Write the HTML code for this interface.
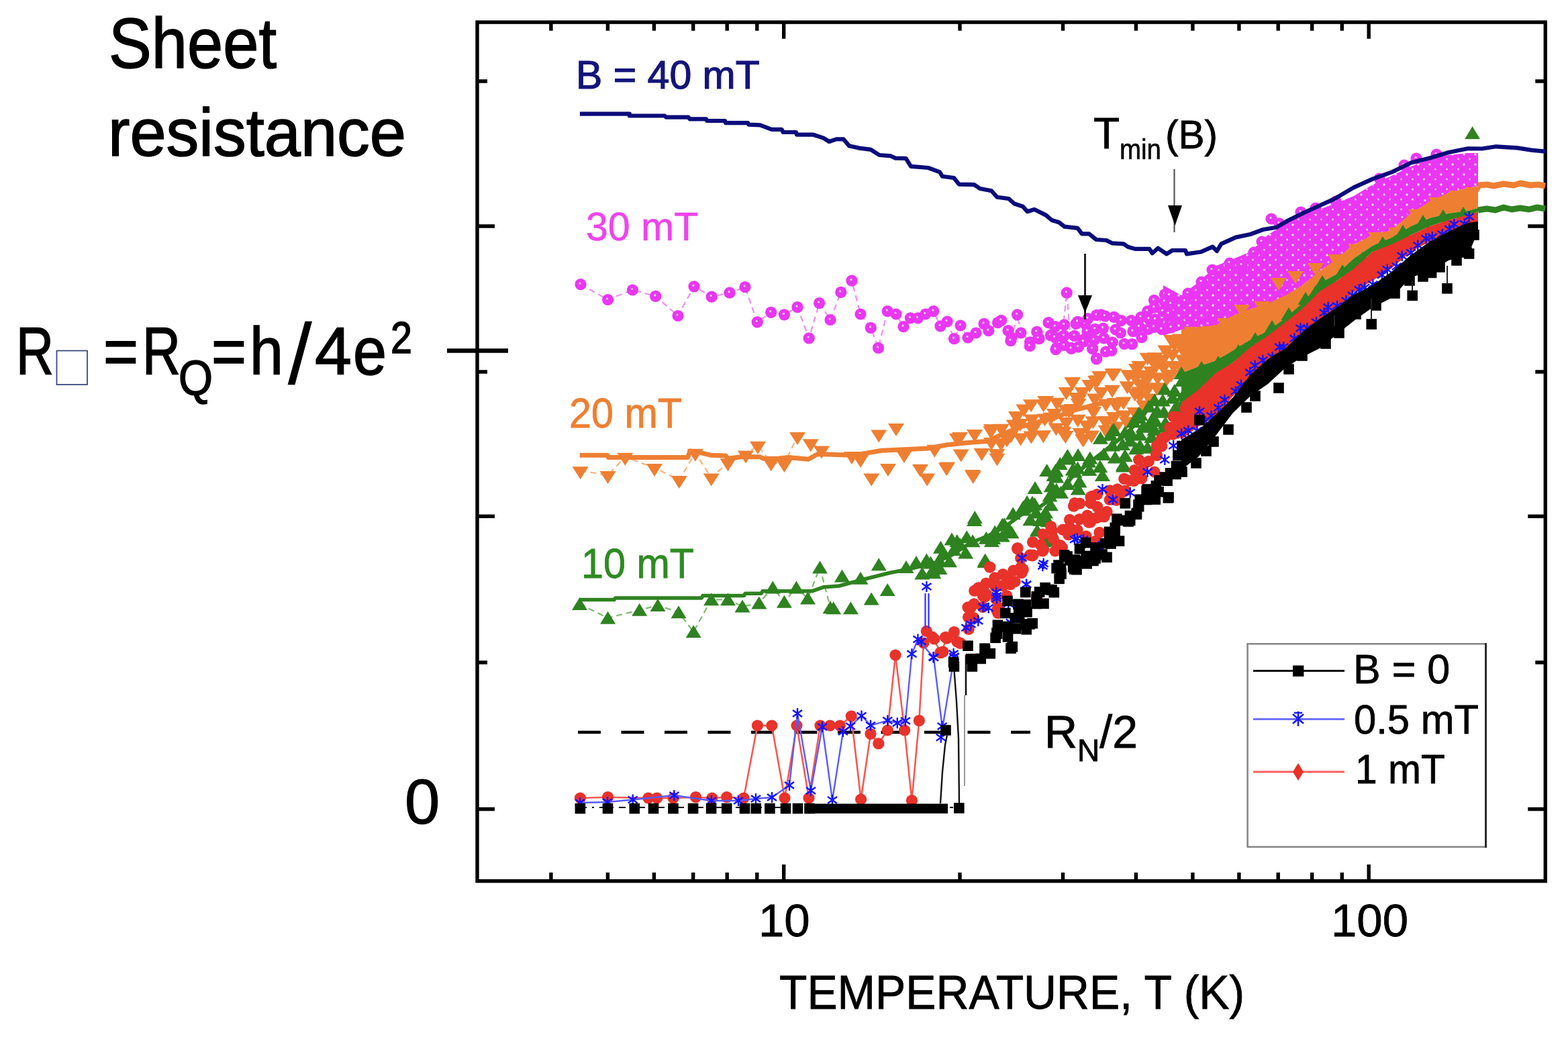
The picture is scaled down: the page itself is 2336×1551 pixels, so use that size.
<!DOCTYPE html>
<html><head><meta charset="utf-8"><style>
html,body{margin:0;padding:0;background:#fff;}
svg{display:block;}
text{font-family:"Liberation Sans",Arial,sans-serif;}
</style></head><body>
<svg width="2336" height="1551" viewBox="0 0 2336 1551">
<rect width="2336" height="1551" fill="#fff"/>
<rect x="711" y="33.1" width="1591.3000000000002" height="1279.6000000000001" fill="none" stroke="#000" stroke-width="5.4"/>
<path d="M820.9 1312.7v-12.7M820.9 33.1v12.7M905.4 1312.7v-12.7M905.4 33.1v12.7M974.4 1312.7v-12.7M974.4 33.1v12.7M1032.7 1312.7v-12.7M1032.7 33.1v12.7M1083.2 1312.7v-12.7M1083.2 33.1v12.7M1127.8 1312.7v-12.7M1127.8 33.1v12.7M1430.0 1312.7v-12.7M1430.0 33.1v12.7M1583.5 1312.7v-12.7M1583.5 33.1v12.7M1692.4 1312.7v-12.7M1692.4 33.1v12.7M1776.9 1312.7v-12.7M1776.9 33.1v12.7M1845.9 1312.7v-12.7M1845.9 33.1v12.7M1904.2 1312.7v-12.7M1904.2 33.1v12.7M1954.7 1312.7v-12.7M1954.7 33.1v12.7M1999.3 1312.7v-12.7M1999.3 33.1v12.7M1167.7 1312.7v-24.7M1167.7 33.1v24.7M2039.2 1312.7v-24.7M2039.2 33.1v24.7M711 121h15M2302.3 121h-15M711 337h26M2302.3 337h-26M711 554h15M2302.3 554h-15M711 769.3h26M2302.3 769.3h-26M711 987h15M2302.3 987h-15M711 1205.5h26M2302.3 1205.5h-26" stroke="#000" stroke-width="5.4" fill="none"/>
<path d="M666 522.5H757" stroke="#000" stroke-width="6.5"/>
<text x="1130" y="1395" font-size="69" fill="#000" stroke="#000" stroke-width="0.8">10</text>
<text x="1983" y="1395" font-size="69" fill="#000" stroke="#000" stroke-width="0.8">100</text>
<text x="1161" y="1503" font-size="70" fill="#000" textLength="693" lengthAdjust="spacingAndGlyphs" stroke="#000" stroke-width="0.8">TEMPERATURE, T (K)</text>
<text x="858" y="132.2" font-size="59" fill="#14147a" stroke="#14147a" stroke-width="1.2">B = 40 mT</text>
<text x="873" y="357.5" font-size="59" fill="#ee44ee" stroke="#ee44ee" stroke-width="0.6">30 mT</text>
<text x="848" y="637" font-size="63" fill="#ee7f32" textLength="168" lengthAdjust="spacingAndGlyphs" stroke="#f08030" stroke-width="0.8">20 mT</text>
<text x="866" y="861.4" font-size="63" fill="#2e8b22" textLength="168" lengthAdjust="spacingAndGlyphs" stroke="#2e8b22" stroke-width="0.8">10 mT</text>
<text x="1629" y="220.6" font-size="64" fill="#000" stroke="#000" stroke-width="0.8">T</text>
<text x="1668" y="236.7" font-size="42" fill="#000" textLength="62" lengthAdjust="spacingAndGlyphs" stroke="#000" stroke-width="0.6">min</text>
<text x="1736" y="220.6" font-size="60" fill="#000" textLength="78" lengthAdjust="spacingAndGlyphs" stroke="#000" stroke-width="0.8">(B)</text>
<text x="1556" y="1114" font-size="68" fill="#000" stroke="#000" stroke-width="0.8">R<tspan font-size="46" dy="20">N</tspan><tspan dy="-20">/2</tspan></text>
<text x="162" y="101.4" font-size="106" fill="#000" textLength="250" lengthAdjust="spacingAndGlyphs" stroke="#000" stroke-width="1.6">Sheet</text>
<text x="161" y="232.2" font-size="100" fill="#000" textLength="444" lengthAdjust="spacingAndGlyphs" stroke="#000" stroke-width="1.6">resistance</text>
<text x="24" y="558" font-size="100" fill="#000" textLength="56" lengthAdjust="spacingAndGlyphs" stroke="#000" stroke-width="1.6" >R</text>
<rect x="84.5" y="522.5" width="45.5" height="50.5" fill="none" stroke="#3a4a7a" stroke-width="1.8"/>
<text x="154" y="558" font-size="100" fill="#000" textLength="52" lengthAdjust="spacingAndGlyphs" stroke="#000" stroke-width="1.6" >=</text>
<text x="212" y="558" font-size="100" fill="#000" textLength="57" lengthAdjust="spacingAndGlyphs" stroke="#000" stroke-width="1.6" >R</text>
<text x="266" y="588" font-size="72" fill="#000" textLength="51" lengthAdjust="spacingAndGlyphs" stroke="#000" stroke-width="1.6" >Q</text>
<text x="315" y="558" font-size="100" fill="#000" textLength="52" lengthAdjust="spacingAndGlyphs" stroke="#000" stroke-width="1.6" >=</text>
<text x="372" y="558" font-size="100" fill="#000" textLength="50" lengthAdjust="spacingAndGlyphs" stroke="#000" stroke-width="1.6" >h</text>
<text x="429" y="572" font-size="128" fill="#000" stroke="#000" stroke-width="0.6">/</text>
<text x="469" y="558" font-size="100" fill="#000" textLength="55" lengthAdjust="spacingAndGlyphs" stroke="#000" stroke-width="1.6" >4</text>
<text x="526" y="558" font-size="100" fill="#000" textLength="50" lengthAdjust="spacingAndGlyphs" stroke="#000" stroke-width="1.6" >e</text>
<text x="582" y="526" font-size="66" fill="#000" textLength="32" lengthAdjust="spacingAndGlyphs" stroke="#000" stroke-width="1.6" >2</text>
<text x="603" y="1227" font-size="94" fill="#000" stroke="#000" stroke-width="1.2">0</text>
<rect x="1858.6" y="959.3" width="355" height="302.5" fill="#fff" stroke="#888" stroke-width="2.6"/>
<path d="M2213.6 958V1263" stroke="#222" stroke-width="2.8"/>
<path d="M1867 999.6H2003" stroke="#111" stroke-width="3"/>
<rect x="1926" y="991.5" width="16.4" height="16.4" fill="#000"/>
<path d="M1867 1071.5H2003" stroke="#7070ff" stroke-width="3"/>
<path d="M1867 1150H2003" stroke="#ff6060" stroke-width="3"/>
<path d="M1934 1137l8 13l-8 13l-8-13z" fill="#e83028"/>
<path d="M1926 1064l16 14M1942 1064l-16 14M1934 1060v22M1928 1062h12" stroke="#1a1aff" stroke-width="2.6"/>
<text x="2016" y="1017.8" font-size="61" fill="#000" stroke="#000" stroke-width="0.8">B = 0</text>
<text x="2017" y="1093.4" font-size="61" fill="#000" textLength="186" lengthAdjust="spacingAndGlyphs" stroke="#000" stroke-width="0.8">0.5 mT</text>
<text x="2019" y="1166.9" font-size="61" fill="#000" textLength="134" lengthAdjust="spacingAndGlyphs" stroke="#000" stroke-width="0.8">1 mT</text>
<path d="M861 1091H1535" stroke="#000" stroke-width="4.5" stroke-dasharray="34 30.5"/>
<defs>
<g id="mc"><circle r="8.6" fill="#e936f3"/><circle r="1.6" cx="-1" cy="-1.5" fill="#fbd8fb"/></g>
<path id="od" d="M-12 -6H12L0 13Z" fill="#ee7f32"/>
<path id="gu" d="M0 -10L11.5 9H-11.5Z" fill="#2f8220"/>
<rect id="bs" x="-7.8" y="-7.8" width="15.6" height="15.6" fill="#000"/>
<circle id="rd" r="8.6" fill="#e8322a"/>
<path id="bst" d="M-7 -5L7 5M7 -5L-7 5M0 -8V8" stroke="#1414ff" stroke-width="2.4" fill="none"/>
<pattern id="mp" width="17" height="15" patternUnits="userSpaceOnUse"><rect width="17" height="15" fill="#e936f3"/><circle cx="5" cy="5" r="1.8" fill="#fcdcfc"/><circle cx="13.5" cy="12" r="1.5" fill="#f8c8f8"/></pattern>
</defs>
<polyline points="865.0,423.7 905.6,446.5 942.4,432.0 976.7,441.4 1010.0,470.5 1034.0,426.8 1060.2,442.2 1087.0,436.2 1110.0,427.7 1128.2,479.9 1148.7,465.3 1168.4,468.8 1188.0,457.6 1205.2,503.8 1220.6,451.6 1237.0,476.5 1252.8,435.4 1269.0,418.2 1282.0,468.0 1297.3,488.4 1308.5,518.4 1322.2,463.6 1335.0,468.0 1346.0,486.7" fill="none" stroke="#f08cf4" stroke-width="2.2" stroke-linejoin="round" stroke-dasharray="9 6"/>
<polyline points="1346.0,486.7 1356.4,473.9 1367.5,473.9 1378.7,468.0 1390.7,463.6 1401.0,485.9 1411.2,479.0 1421.5,504.7 1431.0,485.0 1442.0,503.0 1454.0,496.0 1466.0,482.4 1472.8,492.7 1486.5,480.7 1491.7,477.3 1502.0,492.7 1507.0,503.0 1515.6,468.8 1520.8,496.0 1534.5,509.8 1544.7,494.4 1548.2,504.7 1562.0,480.7 1565.3,499.6 1574.0,518.4 1582.4,501.3 1589.2,436.2 1596.0,518.4 1603.0,482.4 1616.6,482.4 1625.0,501.3 1633.8,533.8 1640.0,468.8" fill="none" stroke="#f08cf4" stroke-width="2.2" stroke-linejoin="round" stroke-dasharray="9 6"/>
<polygon points="1733.0,425.0 1760.0,440.0 1786.0,420.0 1812.0,396.0 1837.0,386.0 1863.0,375.0 1889.0,350.0 1915.0,333.0 1940.0,318.0 1966.0,312.0 1992.0,302.0 2017.0,292.0 2045.0,275.0 2073.0,262.0 2102.0,248.0 2130.0,237.0 2158.0,231.0 2187.0,228.0 2202.0,228.0 2202.0,277.0 2187.0,280.0 2158.0,287.0 2130.0,300.0 2102.0,318.0 2073.0,343.0 2045.0,350.0 2017.0,364.0 1992.0,385.0 1966.0,404.0 1940.0,425.0 1915.0,444.0 1889.0,455.0 1863.0,465.0 1837.0,475.0 1812.0,486.0 1786.0,488.0 1760.0,491.0 1733.0,500.0" fill="url(#mp)" />
<g><use href="#mc" x="865.0" y="423.7"/><use href="#mc" x="905.6" y="446.5"/><use href="#mc" x="942.4" y="432.0"/><use href="#mc" x="976.7" y="441.4"/><use href="#mc" x="1010.0" y="470.5"/><use href="#mc" x="1034.0" y="426.8"/><use href="#mc" x="1060.2" y="442.2"/><use href="#mc" x="1087.0" y="436.2"/><use href="#mc" x="1110.0" y="427.7"/><use href="#mc" x="1128.2" y="479.9"/><use href="#mc" x="1148.7" y="465.3"/><use href="#mc" x="1168.4" y="468.8"/><use href="#mc" x="1188.0" y="457.6"/><use href="#mc" x="1205.2" y="503.8"/><use href="#mc" x="1220.6" y="451.6"/><use href="#mc" x="1237.0" y="476.5"/><use href="#mc" x="1252.8" y="435.4"/><use href="#mc" x="1269.0" y="418.2"/><use href="#mc" x="1282.0" y="468.0"/><use href="#mc" x="1297.3" y="488.4"/><use href="#mc" x="1308.5" y="518.4"/><use href="#mc" x="1322.2" y="463.6"/><use href="#mc" x="1335.0" y="468.0"/><use href="#mc" x="1346.0" y="486.7"/><use href="#mc" x="1356.4" y="473.9"/><use href="#mc" x="1367.5" y="473.9"/><use href="#mc" x="1378.7" y="468.0"/><use href="#mc" x="1390.7" y="463.6"/><use href="#mc" x="1401.0" y="485.9"/><use href="#mc" x="1411.2" y="479.0"/><use href="#mc" x="1421.5" y="504.7"/><use href="#mc" x="1431.0" y="485.0"/><use href="#mc" x="1442.0" y="503.0"/><use href="#mc" x="1454.0" y="496.0"/><use href="#mc" x="1466.0" y="482.4"/><use href="#mc" x="1472.8" y="492.7"/><use href="#mc" x="1486.5" y="480.7"/><use href="#mc" x="1491.7" y="477.3"/><use href="#mc" x="1502.0" y="492.7"/><use href="#mc" x="1507.0" y="503.0"/><use href="#mc" x="1515.6" y="468.8"/><use href="#mc" x="1520.8" y="496.0"/><use href="#mc" x="1534.5" y="509.8"/><use href="#mc" x="1544.7" y="494.4"/><use href="#mc" x="1548.2" y="504.7"/><use href="#mc" x="1562.0" y="480.7"/><use href="#mc" x="1565.3" y="499.6"/><use href="#mc" x="1574.0" y="518.4"/><use href="#mc" x="1582.4" y="501.3"/><use href="#mc" x="1589.2" y="436.2"/><use href="#mc" x="1596.0" y="518.4"/><use href="#mc" x="1603.0" y="482.4"/><use href="#mc" x="1616.6" y="482.4"/><use href="#mc" x="1625.0" y="501.3"/><use href="#mc" x="1633.8" y="533.8"/><use href="#mc" x="1640.0" y="468.8"/><use href="#mc" x="1505.8" y="507.7"/><use href="#mc" x="1534.2" y="515.5"/><use href="#mc" x="1572.9" y="520.6"/><use href="#mc" x="1596.0" y="519.4"/><use href="#mc" x="1633.5" y="534.8"/><use href="#mc" x="1615.5" y="505.0"/><use href="#mc" x="1547.0" y="504.0"/><use href="#mc" x="1572.2" y="486.5"/><use href="#mc" x="1571.6" y="502.6"/><use href="#mc" x="1585.5" y="483.8"/><use href="#mc" x="1585.3" y="500.2"/><use href="#mc" x="1585.6" y="514.5"/><use href="#mc" x="1605.6" y="479.3"/><use href="#mc" x="1600.8" y="500.3"/><use href="#mc" x="1606.6" y="516.9"/><use href="#mc" x="1620.8" y="474.6"/><use href="#mc" x="1619.9" y="493.6"/><use href="#mc" x="1614.2" y="509.2"/><use href="#mc" x="1633.5" y="469.6"/><use href="#mc" x="1631.7" y="490.3"/><use href="#mc" x="1630.0" y="506.6"/><use href="#mc" x="1627.5" y="519.6"/><use href="#mc" x="1646.4" y="470.9"/><use href="#mc" x="1643.5" y="489.1"/><use href="#mc" x="1644.6" y="503.8"/><use href="#mc" x="1647.4" y="524.0"/><use href="#mc" x="1659.6" y="472.3"/><use href="#mc" x="1662.0" y="491.0"/><use href="#mc" x="1657.3" y="510.0"/><use href="#mc" x="1655.9" y="522.5"/><use href="#mc" x="1670.2" y="477.6"/><use href="#mc" x="1669.3" y="496.0"/><use href="#mc" x="1675.1" y="512.3"/><use href="#mc" x="1685.5" y="477.5"/><use href="#mc" x="1687.8" y="493.6"/><use href="#mc" x="1686.6" y="512.6"/><use href="#mc" x="1699.8" y="472.7"/><use href="#mc" x="1697.4" y="486.9"/><use href="#mc" x="1700.9" y="502.6"/><use href="#mc" x="1709.7" y="463.6"/><use href="#mc" x="1712.0" y="475.4"/><use href="#mc" x="1710.8" y="490.3"/><use href="#mc" x="1719.4" y="447.3"/><use href="#mc" x="1719.8" y="458.2"/><use href="#mc" x="1721.3" y="475.9"/><use href="#mc" x="1719.5" y="487.4"/><use href="#mc" x="1735.3" y="438.5"/><use href="#mc" x="1735.2" y="449.3"/><use href="#mc" x="1732.5" y="463.8"/><use href="#mc" x="1735.3" y="481.4"/><use href="#mc" x="1730.9" y="490.7"/><use href="#mc" x="1742.4" y="440.0"/><use href="#mc" x="1744.5" y="452.6"/><use href="#mc" x="1741.0" y="467.6"/><use href="#mc" x="1743.2" y="482.5"/><use href="#mc" x="1894.0" y="326.0"/><use href="#mc" x="1906.0" y="333.0"/><use href="#mc" x="1938.0" y="316.0"/><use href="#mc" x="1960.0" y="310.0"/><use href="#mc" x="1990.0" y="300.0"/><use href="#mc" x="2055.0" y="266.0"/><use href="#mc" x="2092.0" y="246.0"/><use href="#mc" x="2110.0" y="236.0"/><use href="#mc" x="2140.0" y="230.0"/><use href="#mc" x="1770.0" y="437.0"/><use href="#mc" x="1790.0" y="420.0"/><use href="#mc" x="1806.0" y="402.0"/><use href="#mc" x="1832.0" y="392.0"/><use href="#mc" x="1850.0" y="395.0"/><use href="#mc" x="1868.0" y="376.0"/><use href="#mc" x="1880.0" y="360.0"/><use href="#mc" x="1745.0" y="488.0"/><use href="#mc" x="1770.0" y="486.0"/><use href="#mc" x="1800.0" y="483.0"/><use href="#mc" x="1826.0" y="474.0"/><use href="#mc" x="1852.0" y="465.0"/><use href="#mc" x="1880.0" y="455.0"/><use href="#mc" x="1905.0" y="446.0"/><use href="#mc" x="1930.0" y="432.0"/><use href="#mc" x="1955.0" y="412.0"/><use href="#mc" x="1980.0" y="392.0"/><use href="#mc" x="2000.0" y="378.0"/><use href="#mc" x="2030.0" y="360.0"/><use href="#mc" x="2060.0" y="348.0"/><use href="#mc" x="2090.0" y="325.0"/><use href="#mc" x="2118.0" y="305.0"/><use href="#mc" x="2150.0" y="290.0"/><use href="#mc" x="2130.0" y="305.0"/><use href="#mc" x="2178.0" y="303.0"/><use href="#mc" x="2190.0" y="298.0"/><use href="#mc" x="2124.0" y="300.0"/></g>
<polyline points="864.6,701.3 905.6,708.0 931.3,680.8 975.0,697.0 1011.8,715.0 1035.8,674.8 1059.7,711.6 1084.5,689.3 1111.0,677.4 1129.0,663.7 1148.7,689.3 1168.4,691.0 1188.0,650.0 1207.8,660.2 1224.0,670.5" fill="none" stroke="#f6b37a" stroke-width="2.2" stroke-linejoin="round" stroke-dasharray="9 6"/>
<polygon points="1760.0,491.0 1786.0,488.0 1812.0,484.0 1837.0,470.0 1863.0,460.0 1889.0,452.0 1915.0,440.0 1940.0,425.0 1966.0,404.0 1992.0,385.0 2017.0,364.0 2045.0,350.0 2073.0,343.0 2102.0,318.0 2130.0,300.0 2158.0,287.0 2187.0,280.0 2202.0,277.0 2202.0,310.0 2187.0,314.0 2158.0,318.0 2130.0,325.0 2102.0,337.0 2073.0,354.0 2045.0,366.0 2017.0,385.0 1992.0,408.0 1966.0,422.0 1940.0,452.0 1915.0,474.0 1889.0,493.0 1863.0,506.0 1837.0,522.0 1812.0,537.0 1786.0,546.0 1760.0,556.0" fill="#ee7f32" />
<polyline points="863.7,678.2 904.8,678.2 906.5,681.6 1024.6,681.6 1028.0,672.0 1045.0,674.8 1058.9,678.2 1081.0,679.0 1084.5,683.3 1103.4,680.8 1132.5,680.8 1137.6,683.3 1158.0,683.3 1175.0,681.6 1204.4,684.2 1218.0,676.5 1262.0,678.0 1282.8,676.4 1313.6,671.3 1383.8,667.9 1411.0,662.7 1445.4,659.3 1469.4,657.6 1496.8,645.6 1522.5,635.3 1548.0,628.5 1573.8,621.6 1599.5,611.4 1640.0,601.0 1660.6,598.0" fill="none" stroke="#ee7f32" stroke-width="7" stroke-linejoin="round" />
<g><use href="#od" x="864.6" y="701.3"/><use href="#od" x="905.6" y="708.0"/><use href="#od" x="931.3" y="680.8"/><use href="#od" x="975.0" y="697.0"/><use href="#od" x="1011.8" y="715.0"/><use href="#od" x="1035.8" y="674.8"/><use href="#od" x="1059.7" y="711.6"/><use href="#od" x="1084.5" y="689.3"/><use href="#od" x="1111.0" y="677.4"/><use href="#od" x="1129.0" y="663.7"/><use href="#od" x="1148.7" y="689.3"/><use href="#od" x="1168.4" y="691.0"/><use href="#od" x="1188.0" y="650.0"/><use href="#od" x="1207.8" y="660.2"/><use href="#od" x="1224.0" y="670.5"/><use href="#od" x="1269.0" y="679.0"/><use href="#od" x="1282.0" y="684.0"/><use href="#od" x="1298.2" y="711.5"/><use href="#od" x="1309.3" y="646.5"/><use href="#od" x="1323.0" y="697.0"/><use href="#od" x="1335.0" y="637.0"/><use href="#od" x="1347.0" y="677.0"/><use href="#od" x="1371.0" y="697.8"/><use href="#od" x="1381.2" y="711.5"/><use href="#od" x="1392.4" y="668.7"/><use href="#od" x="1411.2" y="694.4"/><use href="#od" x="1430.0" y="650.0"/><use href="#od" x="1431.7" y="675.6"/><use href="#od" x="1449.7" y="708.0"/><use href="#od" x="1462.6" y="673.9"/><use href="#od" x="1476.3" y="641.3"/><use href="#od" x="1484.8" y="675.6"/><use href="#od" x="1500.2" y="653.3"/><use href="#od" x="1514.0" y="619.0"/><use href="#od" x="1537.9" y="638.0"/><use href="#od" x="1558.4" y="596.0"/><use href="#od" x="1565.3" y="620.8"/><use href="#od" x="1584.0" y="643.0"/><use href="#od" x="1592.7" y="610.5"/><use href="#od" x="1597.8" y="568.6"/><use href="#od" x="1613.2" y="653.3"/><use href="#od" x="1620.0" y="633.6"/><use href="#od" x="1632.0" y="566.0"/><use href="#od" x="1608.0" y="591.7"/><use href="#od" x="1514.8" y="619.5"/><use href="#od" x="1485.0" y="675.0"/><use href="#od" x="1557.4" y="596.3"/><use href="#od" x="1597.4" y="568.0"/><use href="#od" x="1659.3" y="555.0"/><use href="#od" x="1634.8" y="565.3"/><use href="#od" x="1691.6" y="561.5"/><use href="#od" x="1709.6" y="531.8"/><use href="#od" x="1588.4" y="609.2"/><use href="#od" x="1603.8" y="591.0"/><use href="#od" x="1619.3" y="632.4"/><use href="#od" x="1614.2" y="653.0"/><use href="#od" x="1647.7" y="628.5"/><use href="#od" x="1678.7" y="627.3"/><use href="#od" x="1698.0" y="588.6"/><use href="#od" x="1539.3" y="637.6"/><use href="#od" x="1583.2" y="641.5"/><use href="#od" x="1660.6" y="598.9"/><use href="#od" x="1410.0" y="696.0"/><use href="#od" x="1449.0" y="706.0"/><use href="#od" x="1426.0" y="652.0"/><use href="#od" x="1452.0" y="646.0"/><use href="#od" x="1477.0" y="658.0"/><use href="#od" x="1477.0" y="638.0"/><use href="#od" x="1491.9" y="637.7"/><use href="#od" x="1491.2" y="659.3"/><use href="#od" x="1485.5" y="681.5"/><use href="#od" x="1510.7" y="631.6"/><use href="#od" x="1505.9" y="647.6"/><use href="#od" x="1525.3" y="608.6"/><use href="#od" x="1519.7" y="630.0"/><use href="#od" x="1520.6" y="651.4"/><use href="#od" x="1536.0" y="601.3"/><use href="#od" x="1537.0" y="623.5"/><use href="#od" x="1536.3" y="648.6"/><use href="#od" x="1554.5" y="601.2"/><use href="#od" x="1556.5" y="622.4"/><use href="#od" x="1554.2" y="647.2"/><use href="#od" x="1574.7" y="598.8"/><use href="#od" x="1570.9" y="615.0"/><use href="#od" x="1573.4" y="636.6"/><use href="#od" x="1588.6" y="582.9"/><use href="#od" x="1596.5" y="607.9"/><use href="#od" x="1588.5" y="628.1"/><use href="#od" x="1587.3" y="647.9"/><use href="#od" x="1612.6" y="583.0"/><use href="#od" x="1606.6" y="599.7"/><use href="#od" x="1605.7" y="623.7"/><use href="#od" x="1609.3" y="643.8"/><use href="#od" x="1623.2" y="572.1"/><use href="#od" x="1630.8" y="592.5"/><use href="#od" x="1629.1" y="612.1"/><use href="#od" x="1628.4" y="626.2"/><use href="#od" x="1626.2" y="647.5"/><use href="#od" x="1638.3" y="558.9"/><use href="#od" x="1640.6" y="583.0"/><use href="#od" x="1647.6" y="600.6"/><use href="#od" x="1647.4" y="626.0"/><use href="#od" x="1647.6" y="639.7"/><use href="#od" x="1657.3" y="555.5"/><use href="#od" x="1657.0" y="579.8"/><use href="#od" x="1664.0" y="602.0"/><use href="#od" x="1659.8" y="620.1"/><use href="#od" x="1663.0" y="634.4"/><use href="#od" x="1681.1" y="557.3"/><use href="#od" x="1679.5" y="574.3"/><use href="#od" x="1673.8" y="597.4"/><use href="#od" x="1675.3" y="617.5"/><use href="#od" x="1693.0" y="548.0"/><use href="#od" x="1698.5" y="571.2"/><use href="#od" x="1690.7" y="585.2"/><use href="#od" x="1690.5" y="613.0"/><use href="#od" x="1697.2" y="543.9"/><use href="#od" x="1703.8" y="557.5"/><use href="#od" x="1698.8" y="571.6"/><use href="#od" x="1697.0" y="582.4"/><use href="#od" x="1703.8" y="602.5"/><use href="#od" x="1715.5" y="534.0"/><use href="#od" x="1715.0" y="552.1"/><use href="#od" x="1709.7" y="562.6"/><use href="#od" x="1710.3" y="577.5"/><use href="#od" x="1712.7" y="592.6"/><use href="#od" x="1721.0" y="531.3"/><use href="#od" x="1722.8" y="542.6"/><use href="#od" x="1724.7" y="561.2"/><use href="#od" x="1723.4" y="576.3"/><use href="#od" x="1736.3" y="520.5"/><use href="#od" x="1732.1" y="534.8"/><use href="#od" x="1733.5" y="546.3"/><use href="#od" x="1738.4" y="562.7"/><use href="#od" x="1749.8" y="512.1"/><use href="#od" x="1746.6" y="526.8"/><use href="#od" x="1748.4" y="543.9"/><use href="#od" x="1744.8" y="557.1"/><use href="#od" x="1758.2" y="503.4"/><use href="#od" x="1760.1" y="516.7"/><use href="#od" x="1762.1" y="534.5"/><use href="#od" x="1759.5" y="547.1"/><use href="#od" x="1772.1" y="503.7"/><use href="#od" x="1771.6" y="517.4"/><use href="#od" x="1771.8" y="535.7"/><use href="#od" x="1745.0" y="505.0"/><use href="#od" x="1775.0" y="493.0"/><use href="#od" x="1800.0" y="492.0"/><use href="#od" x="1825.0" y="480.0"/><use href="#od" x="1850.0" y="460.0"/><use href="#od" x="1880.0" y="455.0"/><use href="#od" x="1905.0" y="420.0"/><use href="#od" x="1930.0" y="410.0"/><use href="#od" x="1960.0" y="398.0"/><use href="#od" x="1990.0" y="385.0"/><use href="#od" x="2020.0" y="370.0"/><use href="#od" x="2050.0" y="352.0"/><use href="#od" x="2080.0" y="345.0"/><use href="#od" x="2110.0" y="318.0"/><use href="#od" x="2140.0" y="300.0"/><use href="#od" x="2170.0" y="290.0"/><use href="#od" x="2195.0" y="285.0"/><use href="#od" x="1760.0" y="545.0"/><use href="#od" x="1790.0" y="540.0"/><use href="#od" x="1815.0" y="530.0"/><use href="#od" x="1845.0" y="515.0"/><use href="#od" x="1870.0" y="500.0"/><use href="#od" x="1900.0" y="480.0"/><use href="#od" x="1930.0" y="460.0"/><use href="#od" x="1955.0" y="440.0"/></g>
<polyline points="2202.0,276.0 2215.0,275.0 2225.0,277.0 2240.0,274.0 2255.0,276.0 2265.0,273.0 2280.0,276.0 2292.0,275.0 2302.0,277.0" fill="none" stroke="#ee7f32" stroke-width="9" stroke-linejoin="round" />
<polyline points="863.5,900.0 905.6,920.7 952.7,908.8 980.0,902.0 1011.0,912.2 1033.2,941.3 1059.7,893.3 1084.5,893.3 1106.0,903.6 1130.8,898.5 1151.3,875.4 1168.4,896.8 1186.4,875.4 1203.5,891.6 1221.5,845.4 1237.0,905.3" fill="none" stroke="#7dbb6f" stroke-width="2.2" stroke-linejoin="round" stroke-dasharray="9 6"/>
<polygon points="1760.0,556.0 1786.0,546.0 1812.0,537.0 1837.0,522.0 1863.0,506.0 1889.0,493.0 1915.0,474.0 1940.0,452.0 1966.0,422.0 1992.0,408.0 2017.0,385.0 2045.0,366.0 2073.0,354.0 2102.0,337.0 2130.0,325.0 2158.0,318.0 2187.0,314.0 2202.0,310.0 2202.0,316.0 2187.0,320.0 2158.0,328.0 2130.0,337.0 2102.0,350.0 2073.0,366.0 2045.0,375.0 2017.0,400.0 1992.0,418.0 1966.0,436.0 1940.0,462.0 1915.0,482.0 1889.0,505.0 1863.0,519.0 1837.0,540.0 1812.0,558.0 1786.0,585.0 1760.0,609.0" fill="#2f8220" />
<polyline points="863.7,893.6 915.0,893.6 916.8,891.0 1045.2,891.0 1047.0,887.6 1108.5,887.6 1110.2,884.2 1134.2,884.2 1136.0,880.8 1209.5,880.8 1226.6,874.8 1250.0,873.0 1291.4,862.0 1325.6,853.5 1359.8,846.7 1394.0,838.0 1419.8,826.0 1445.4,809.0 1471.0,798.8 1496.8,785.0 1522.5,766.2 1548.0,756.0 1582.4,732.0 1596.0,712.0 1622.0,690.0 1647.7,670.0 1673.5,650.0 1699.3,625.0 1720.0,595.0" fill="none" stroke="#2f8220" stroke-width="5.5" stroke-linejoin="round" />
<g><use href="#gu" x="863.5" y="900.0"/><use href="#gu" x="905.6" y="920.7"/><use href="#gu" x="952.7" y="908.8"/><use href="#gu" x="980.0" y="902.0"/><use href="#gu" x="1011.0" y="912.2"/><use href="#gu" x="1033.2" y="941.3"/><use href="#gu" x="1059.7" y="893.3"/><use href="#gu" x="1084.5" y="893.3"/><use href="#gu" x="1106.0" y="903.6"/><use href="#gu" x="1130.8" y="898.5"/><use href="#gu" x="1151.3" y="875.4"/><use href="#gu" x="1168.4" y="896.8"/><use href="#gu" x="1186.4" y="875.4"/><use href="#gu" x="1203.5" y="891.6"/><use href="#gu" x="1221.5" y="845.4"/><use href="#gu" x="1237.0" y="905.3"/><use href="#gu" x="1254.5" y="858.4"/><use href="#gu" x="1282.0" y="861.8"/><use href="#gu" x="1309.3" y="841.3"/><use href="#gu" x="1322.2" y="879.0"/><use href="#gu" x="1298.2" y="892.6"/><use href="#gu" x="1267.4" y="906.3"/><use href="#gu" x="1241.7" y="906.3"/><use href="#gu" x="1380.4" y="834.4"/><use href="#gu" x="1390.7" y="853.3"/><use href="#gu" x="1418.0" y="803.6"/><use href="#gu" x="1452.3" y="771.0"/><use href="#gu" x="1440.3" y="800.2"/><use href="#gu" x="1467.7" y="834.4"/><use href="#gu" x="1479.7" y="802.0"/><use href="#gu" x="1507.0" y="793.3"/><use href="#gu" x="1493.4" y="781.4"/><use href="#gu" x="1537.9" y="748.8"/><use href="#gu" x="1524.2" y="755.7"/><use href="#gu" x="1553.3" y="772.8"/><use href="#gu" x="1565.3" y="752.2"/><use href="#gu" x="1558.4" y="805.3"/><use href="#gu" x="1590.0" y="679.6"/><use href="#gu" x="1572.0" y="701.8"/><use href="#gu" x="1659.3" y="640.3"/><use href="#gu" x="1696.7" y="615.8"/><use href="#gu" x="1673.5" y="694.5"/><use href="#gu" x="1572.9" y="701.0"/><use href="#gu" x="1350.0" y="845.0"/><use href="#gu" x="1365.0" y="838.0"/><use href="#gu" x="1405.0" y="825.0"/><use href="#gu" x="1400.0" y="847.0"/><use href="#gu" x="1451.6" y="775.0"/><use href="#gu" x="1467.0" y="837.0"/><use href="#gu" x="1425.8" y="806.0"/><use href="#gu" x="1477.4" y="806.0"/><use href="#gu" x="1503.0" y="788.0"/><use href="#gu" x="1523.8" y="759.6"/><use href="#gu" x="1539.3" y="751.8"/><use href="#gu" x="1549.6" y="775.0"/><use href="#gu" x="1554.7" y="806.0"/><use href="#gu" x="1570.0" y="708.0"/><use href="#gu" x="1590.8" y="679.6"/><use href="#gu" x="1601.0" y="702.8"/><use href="#gu" x="1621.8" y="687.4"/><use href="#gu" x="1642.4" y="708.0"/><use href="#gu" x="1658.0" y="641.0"/><use href="#gu" x="1673.4" y="692.5"/><use href="#gu" x="1683.7" y="656.4"/><use href="#gu" x="1699.2" y="617.7"/><use href="#gu" x="1709.5" y="666.7"/><use href="#gu" x="1735.3" y="635.8"/><use href="#gu" x="1766.0" y="617.7"/><use href="#gu" x="1606.3" y="728.6"/><use href="#gu" x="1580.5" y="733.8"/><use href="#gu" x="2193.6" y="198.2"/><use href="#gu" x="2175.5" y="342.0"/><use href="#gu" x="1373.8" y="854.4"/><use href="#gu" x="1386.6" y="838.6"/><use href="#gu" x="1389.4" y="849.5"/><use href="#gu" x="1401.4" y="815.7"/><use href="#gu" x="1399.4" y="834.7"/><use href="#gu" x="1420.8" y="819.1"/><use href="#gu" x="1414.5" y="836.3"/><use href="#gu" x="1430.4" y="811.2"/><use href="#gu" x="1438.7" y="823.6"/><use href="#gu" x="1449.0" y="806.3"/><use href="#gu" x="1469.3" y="801.8"/><use href="#gu" x="1482.2" y="792.5"/><use href="#gu" x="1496.2" y="781.3"/><use href="#gu" x="1493.2" y="798.6"/><use href="#gu" x="1509.2" y="765.3"/><use href="#gu" x="1530.1" y="748.1"/><use href="#gu" x="1534.9" y="774.3"/><use href="#gu" x="1542.0" y="727.0"/><use href="#gu" x="1541.4" y="751.1"/><use href="#gu" x="1543.7" y="763.6"/><use href="#gu" x="1545.2" y="790.4"/><use href="#gu" x="1559.6" y="701.0"/><use href="#gu" x="1566.2" y="724.2"/><use href="#gu" x="1564.0" y="738.4"/><use href="#gu" x="1557.6" y="763.4"/><use href="#gu" x="1561.3" y="776.2"/><use href="#gu" x="1579.3" y="691.0"/><use href="#gu" x="1573.8" y="710.5"/><use href="#gu" x="1573.7" y="729.6"/><use href="#gu" x="1592.4" y="683.4"/><use href="#gu" x="1598.3" y="699.5"/><use href="#gu" x="1590.3" y="721.1"/><use href="#gu" x="1606.1" y="678.1"/><use href="#gu" x="1605.5" y="697.5"/><use href="#gu" x="1608.1" y="717.5"/><use href="#gu" x="1623.9" y="682.5"/><use href="#gu" x="1622.8" y="700.0"/><use href="#gu" x="1639.5" y="652.7"/><use href="#gu" x="1644.3" y="677.1"/><use href="#gu" x="1638.9" y="695.3"/><use href="#gu" x="1654.1" y="647.8"/><use href="#gu" x="1657.3" y="663.6"/><use href="#gu" x="1661.3" y="681.6"/><use href="#gu" x="1675.9" y="644.6"/><use href="#gu" x="1672.4" y="662.1"/><use href="#gu" x="1676.1" y="679.1"/><use href="#gu" x="1688.5" y="628.2"/><use href="#gu" x="1686.3" y="647.3"/><use href="#gu" x="1692.4" y="668.2"/><use href="#gu" x="1696.7" y="622.2"/><use href="#gu" x="1703.0" y="635.8"/><use href="#gu" x="1698.3" y="647.4"/><use href="#gu" x="1698.3" y="664.1"/><use href="#gu" x="1711.6" y="605.5"/><use href="#gu" x="1715.7" y="626.2"/><use href="#gu" x="1712.4" y="635.4"/><use href="#gu" x="1715.7" y="650.9"/><use href="#gu" x="1720.0" y="596.3"/><use href="#gu" x="1723.8" y="612.2"/><use href="#gu" x="1721.6" y="627.2"/><use href="#gu" x="1720.0" y="640.3"/><use href="#gu" x="1735.2" y="579.4"/><use href="#gu" x="1732.2" y="596.5"/><use href="#gu" x="1733.9" y="613.7"/><use href="#gu" x="1736.2" y="630.1"/><use href="#gu" x="1749.7" y="582.1"/><use href="#gu" x="1747.1" y="592.6"/><use href="#gu" x="1751.9" y="606.2"/><use href="#gu" x="1761.1" y="566.9"/><use href="#gu" x="1762.7" y="588.7"/><use href="#gu" x="1761.0" y="602.4"/><use href="#gu" x="1769.1" y="566.9"/><use href="#gu" x="1772.0" y="584.4"/><use href="#gu" x="1760.0" y="556.0"/><use href="#gu" x="1790.0" y="548.0"/><use href="#gu" x="1815.0" y="540.0"/><use href="#gu" x="1845.0" y="523.0"/><use href="#gu" x="1870.0" y="505.0"/><use href="#gu" x="1895.0" y="487.0"/><use href="#gu" x="1920.0" y="468.0"/><use href="#gu" x="1945.0" y="445.0"/><use href="#gu" x="1970.0" y="420.0"/><use href="#gu" x="2000.0" y="404.0"/><use href="#gu" x="2030.0" y="385.0"/><use href="#gu" x="2060.0" y="362.0"/><use href="#gu" x="2090.0" y="345.0"/><use href="#gu" x="2120.0" y="330.0"/><use href="#gu" x="2150.0" y="322.0"/><use href="#gu" x="2180.0" y="318.0"/><use href="#gu" x="1960.0" y="435.0"/><use href="#gu" x="2020.0" y="398.0"/></g>
<polyline points="2202.0,313.0 2215.0,311.0 2228.0,313.0 2240.0,309.0 2252.0,312.0 2265.0,310.0 2278.0,312.0 2290.0,309.0 2302.0,311.0" fill="none" stroke="#2f8220" stroke-width="9" stroke-linejoin="round" />
<polyline points="864.4,1189.0 905.5,1187.7 965.8,1189.0 978.7,1189.0 1003.0,1189.0 1036.5,1187.7 1060.8,1189.0 1082.7,1187.7 1108.0,1189.0 1128.4,1081.0 1149.8,1081.0 1169.0,1189.0 1187.0,1081.0 1205.0,1189.0 1222.0,1081.0 1236.6,1081.0 1251.3,1081.0 1268.2,1067.0 1282.6,1191.0 1297.0,1093.4 1308.8,1107.9 1322.3,1088.0 1334.0,976.0 1347.6,1088.0 1358.4,1192.7 1369.3,1073.6 1376.0,958.0 1389.0,949.0 1401.8,972.5 1410.8,950.8 1430.6,958.0" fill="none" stroke="#f25a52" stroke-width="2.6" stroke-linejoin="round" />
<polygon points="1760.0,600.0 1786.0,580.0 1812.0,555.0 1837.0,540.0 1863.0,517.0 1889.0,500.0 1915.0,480.0 1940.0,460.0 1966.0,434.0 1992.0,418.0 2017.0,400.0 2045.0,375.0 2073.0,364.0 2102.0,350.0 2130.0,337.0 2158.0,328.0 2187.0,320.0 2202.0,316.0 2202.0,332.0 2187.0,335.0 2158.0,345.0 2130.0,360.0 2102.0,375.0 2073.0,400.0 2045.0,418.0 2017.0,435.0 1992.0,460.0 1966.0,485.0 1940.0,505.0 1915.0,525.0 1889.0,545.0 1863.0,560.0 1837.0,590.0 1812.0,620.0 1786.0,635.0 1760.0,655.0" fill="#e8322a" />
<g><use href="#rd" x="864.4" y="1189.0"/><use href="#rd" x="905.5" y="1187.7"/><use href="#rd" x="965.8" y="1189.0"/><use href="#rd" x="978.7" y="1189.0"/><use href="#rd" x="1003.0" y="1189.0"/><use href="#rd" x="1036.5" y="1187.7"/><use href="#rd" x="1060.8" y="1189.0"/><use href="#rd" x="1082.7" y="1187.7"/><use href="#rd" x="1108.0" y="1189.0"/><use href="#rd" x="1128.4" y="1081.0"/><use href="#rd" x="1149.8" y="1081.0"/><use href="#rd" x="1169.0" y="1189.0"/><use href="#rd" x="1187.0" y="1081.0"/><use href="#rd" x="1205.0" y="1189.0"/><use href="#rd" x="1222.0" y="1081.0"/><use href="#rd" x="1236.6" y="1081.0"/><use href="#rd" x="1251.3" y="1081.0"/><use href="#rd" x="1268.2" y="1067.0"/><use href="#rd" x="1282.6" y="1191.0"/><use href="#rd" x="1297.0" y="1093.4"/><use href="#rd" x="1308.8" y="1107.9"/><use href="#rd" x="1322.3" y="1088.0"/><use href="#rd" x="1334.0" y="976.0"/><use href="#rd" x="1347.6" y="1088.0"/><use href="#rd" x="1358.4" y="1192.7"/><use href="#rd" x="1369.3" y="1073.6"/><use href="#rd" x="1376.0" y="958.0"/><use href="#rd" x="1389.0" y="949.0"/><use href="#rd" x="1401.8" y="972.5"/><use href="#rd" x="1410.8" y="950.8"/><use href="#rd" x="1430.6" y="958.0"/><use href="#rd" x="1421.4" y="941.6"/><use href="#rd" x="1408.5" y="949.3"/><use href="#rd" x="1391.8" y="952.0"/><use href="#rd" x="1380.3" y="940.4"/><use href="#rd" x="1400.8" y="972.4"/><use href="#rd" x="1430.4" y="958.3"/><use href="#rd" x="1445.8" y="905.7"/><use href="#rd" x="1467.6" y="889.0"/><use href="#rd" x="1486.8" y="913.4"/><use href="#rd" x="1442.0" y="904.9"/><use href="#rd" x="1488.0" y="904.9"/><use href="#rd" x="1464.3" y="887.8"/><use href="#rd" x="1457.4" y="875.8"/><use href="#rd" x="1474.5" y="845.0"/><use href="#rd" x="1502.0" y="862.0"/><use href="#rd" x="1505.4" y="870.7"/><use href="#rd" x="1515.6" y="817.6"/><use href="#rd" x="1524.2" y="848.4"/><use href="#rd" x="1537.9" y="827.8"/><use href="#rd" x="1544.7" y="889.5"/><use href="#rd" x="1553.3" y="821.0"/><use href="#rd" x="1572.0" y="821.0"/><use href="#rd" x="1582.4" y="815.9"/><use href="#rd" x="1599.5" y="754.2"/><use href="#rd" x="1625.0" y="740.5"/><use href="#rd" x="1633.8" y="771.4"/><use href="#rd" x="1632.0" y="807.3"/><use href="#rd" x="1410.3" y="950.7"/><use href="#rd" x="1425.8" y="956.0"/><use href="#rd" x="1405.0" y="971.0"/><use href="#rd" x="1446.4" y="904.3"/><use href="#rd" x="1459.3" y="876.0"/><use href="#rd" x="1485.0" y="909.5"/><use href="#rd" x="1503.0" y="865.6"/><use href="#rd" x="1521.0" y="845.0"/><use href="#rd" x="1544.4" y="888.8"/><use href="#rd" x="1539.3" y="827.0"/><use href="#rd" x="1516.0" y="816.6"/><use href="#rd" x="1474.8" y="845.0"/><use href="#rd" x="1554.7" y="819.0"/><use href="#rd" x="1575.4" y="811.5"/><use href="#rd" x="1567.6" y="790.8"/><use href="#rd" x="1593.4" y="785.7"/><use href="#rd" x="1624.4" y="778.0"/><use href="#rd" x="1632.0" y="806.3"/><use href="#rd" x="1601.0" y="749.6"/><use href="#rd" x="1627.0" y="739.3"/><use href="#rd" x="1645.0" y="770.0"/><use href="#rd" x="1670.8" y="734.0"/><use href="#rd" x="1683.7" y="716.0"/><use href="#rd" x="1696.6" y="685.0"/><use href="#rd" x="1722.4" y="677.4"/><use href="#rd" x="1719.8" y="703.0"/><use href="#rd" x="1735.3" y="651.6"/><use href="#rd" x="1761.0" y="638.7"/><use href="#rd" x="1774.0" y="620.6"/><use href="#rd" x="1748.0" y="620.6"/><use href="#rd" x="1442.6" y="919.7"/><use href="#rd" x="1443.1" y="937.5"/><use href="#rd" x="1451.8" y="880.2"/><use href="#rd" x="1451.1" y="899.9"/><use href="#rd" x="1450.8" y="920.7"/><use href="#rd" x="1469.0" y="869.1"/><use href="#rd" x="1469.4" y="885.0"/><use href="#rd" x="1464.0" y="904.4"/><use href="#rd" x="1482.0" y="860.9"/><use href="#rd" x="1483.3" y="874.2"/><use href="#rd" x="1483.9" y="892.6"/><use href="#rd" x="1494.1" y="855.6"/><use href="#rd" x="1493.6" y="872.7"/><use href="#rd" x="1499.8" y="887.7"/><use href="#rd" x="1509.8" y="850.0"/><use href="#rd" x="1512.1" y="866.5"/><use href="#rd" x="1520.6" y="831.7"/><use href="#rd" x="1522.0" y="853.5"/><use href="#rd" x="1538.5" y="807.7"/><use href="#rd" x="1534.5" y="826.8"/><use href="#rd" x="1553.5" y="795.8"/><use href="#rd" x="1550.3" y="811.5"/><use href="#rd" x="1565.7" y="784.7"/><use href="#rd" x="1569.1" y="802.3"/><use href="#rd" x="1583.5" y="789.1"/><use href="#rd" x="1579.7" y="812.5"/><use href="#rd" x="1593.6" y="774.3"/><use href="#rd" x="1591.7" y="796.7"/><use href="#rd" x="1608.7" y="750.1"/><use href="#rd" x="1608.2" y="773.6"/><use href="#rd" x="1605.1" y="789.6"/><use href="#rd" x="1625.1" y="749.6"/><use href="#rd" x="1619.9" y="768.1"/><use href="#rd" x="1621.9" y="778.2"/><use href="#rd" x="1618.0" y="798.9"/><use href="#rd" x="1634.4" y="736.7"/><use href="#rd" x="1634.8" y="755.1"/><use href="#rd" x="1638.7" y="769.6"/><use href="#rd" x="1638.0" y="793.3"/><use href="#rd" x="1653.4" y="730.9"/><use href="#rd" x="1653.2" y="744.5"/><use href="#rd" x="1649.0" y="762.4"/><use href="#rd" x="1664.7" y="728.9"/><use href="#rd" x="1663.4" y="745.2"/><use href="#rd" x="1674.8" y="713.3"/><use href="#rd" x="1676.3" y="731.1"/><use href="#rd" x="1690.1" y="700.6"/><use href="#rd" x="1689.5" y="716.5"/><use href="#rd" x="1702.3" y="699.3"/><use href="#rd" x="1700.8" y="712.9"/><use href="#rd" x="1711.3" y="687.3"/><use href="#rd" x="1723.4" y="664.3"/><use href="#rd" x="1723.5" y="678.4"/><use href="#rd" x="1730.3" y="654.4"/><use href="#rd" x="1730.8" y="664.7"/><use href="#rd" x="1742.8" y="637.1"/><use href="#rd" x="1746.9" y="647.2"/><use href="#rd" x="1753.8" y="621.3"/><use href="#rd" x="1754.4" y="631.9"/><use href="#rd" x="1753.0" y="645.2"/><use href="#rd" x="1766.0" y="608.8"/><use href="#rd" x="1768.4" y="626.4"/><use href="#rd" x="1765.7" y="634.3"/></g>
<polyline points="864.0,1196.0 905.0,1195.0 942.7,1191.5 1004.4,1185.0 1060.0,1193.0 1100.0,1193.0 1126.0,1190.0 1150.0,1188.0 1176.0,1170.0 1188.0,1063.0 1208.0,1178.0 1225.0,1083.0 1240.0,1192.0 1256.0,1090.0 1267.0,1082.0 1283.5,1066.4 1297.0,1080.8 1322.3,1073.6 1336.8,1077.2 1349.0,1074.0 1358.4,974.3 1367.5,952.6 1391.0,979.7 1403.6,1082.0 1401.8,1098.8 1421.6,978.0" fill="none" stroke="#5a5aff" stroke-width="2.4" stroke-linejoin="round" />
<path d="M1378.5 884V936M1383.5 884V936" stroke="#3030ff" stroke-width="2.2"/>
<g><use href="#bst" x="864.0" y="1196.0"/><use href="#bst" x="905.0" y="1195.0"/><use href="#bst" x="942.7" y="1191.5"/><use href="#bst" x="1004.4" y="1185.0"/><use href="#bst" x="1060.0" y="1193.0"/><use href="#bst" x="1100.0" y="1193.0"/><use href="#bst" x="1126.0" y="1190.0"/><use href="#bst" x="1150.0" y="1188.0"/><use href="#bst" x="1176.0" y="1170.0"/><use href="#bst" x="1188.0" y="1063.0"/><use href="#bst" x="1208.0" y="1178.0"/><use href="#bst" x="1225.0" y="1083.0"/><use href="#bst" x="1240.0" y="1192.0"/><use href="#bst" x="1256.0" y="1090.0"/><use href="#bst" x="1267.0" y="1082.0"/><use href="#bst" x="1283.5" y="1066.4"/><use href="#bst" x="1297.0" y="1080.8"/><use href="#bst" x="1322.3" y="1073.6"/><use href="#bst" x="1336.8" y="1077.2"/><use href="#bst" x="1349.0" y="1074.0"/><use href="#bst" x="1358.4" y="974.3"/><use href="#bst" x="1367.5" y="952.6"/><use href="#bst" x="1391.0" y="979.7"/><use href="#bst" x="1403.6" y="1082.0"/><use href="#bst" x="1401.8" y="1098.8"/><use href="#bst" x="1421.6" y="978.0"/><use href="#bst" x="1372.6" y="955.8"/><use href="#bst" x="1390.5" y="978.9"/><use href="#bst" x="1421.4" y="978.9"/><use href="#bst" x="1439.3" y="935.2"/><use href="#bst" x="1457.3" y="925.0"/><use href="#bst" x="1472.7" y="905.7"/><use href="#bst" x="1504.8" y="934.0"/><use href="#bst" x="1502.3" y="899.3"/><use href="#bst" x="1484.3" y="882.6"/><use href="#bst" x="1380.4" y="874.0"/><use href="#bst" x="1484.8" y="887.8"/><use href="#bst" x="1529.3" y="870.8"/><use href="#bst" x="1553.3" y="843.3"/><use href="#bst" x="1522.5" y="831.3"/><use href="#bst" x="1604.7" y="802.2"/><use href="#bst" x="1616.6" y="809.0"/><use href="#bst" x="1420.6" y="974.0"/><use href="#bst" x="1446.4" y="930.0"/><use href="#bst" x="1464.5" y="904.3"/><use href="#bst" x="1485.0" y="891.4"/><use href="#bst" x="1505.7" y="927.5"/><use href="#bst" x="1529.0" y="870.8"/><use href="#bst" x="1554.7" y="839.8"/><use href="#bst" x="1601.0" y="803.7"/><use href="#bst" x="1614.0" y="803.7"/><use href="#bst" x="1637.0" y="814.0"/><use href="#bst" x="1642.4" y="729.0"/><use href="#bst" x="1658.0" y="744.4"/><use href="#bst" x="1683.7" y="734.0"/><use href="#bst" x="1709.5" y="703.0"/><use href="#bst" x="1735.3" y="685.0"/><use href="#bst" x="1761.0" y="672.0"/><use href="#bst" x="1787.0" y="613.0"/><use href="#bst" x="1787.0" y="662.0"/><use href="#bst" x="1748.2" y="664.1"/><use href="#bst" x="1760.1" y="646.3"/><use href="#bst" x="1770.4" y="641.7"/><use href="#bst" x="1783.4" y="641.6"/><use href="#bst" x="1795.5" y="628.1"/><use href="#bst" x="1804.5" y="619.4"/><use href="#bst" x="1815.3" y="607.4"/><use href="#bst" x="1824.4" y="595.8"/><use href="#bst" x="1840.8" y="583.0"/><use href="#bst" x="1849.0" y="573.6"/><use href="#bst" x="1862.2" y="555.1"/><use href="#bst" x="1869.6" y="544.4"/><use href="#bst" x="1881.4" y="536.7"/><use href="#bst" x="1895.7" y="532.0"/><use href="#bst" x="1906.2" y="517.0"/><use href="#bst" x="1912.2" y="517.1"/><use href="#bst" x="1928.4" y="504.2"/><use href="#bst" x="1937.5" y="488.9"/><use href="#bst" x="1947.3" y="489.1"/><use href="#bst" x="1961.0" y="479.9"/><use href="#bst" x="1972.8" y="465.9"/><use href="#bst" x="1978.7" y="457.7"/><use href="#bst" x="1992.1" y="455.8"/><use href="#bst" x="2005.6" y="447.9"/><use href="#bst" x="2014.9" y="439.9"/><use href="#bst" x="2024.7" y="431.5"/><use href="#bst" x="2033.2" y="428.3"/><use href="#bst" x="2045.4" y="423.8"/><use href="#bst" x="2058.9" y="409.8"/><use href="#bst" x="2066.8" y="401.4"/><use href="#bst" x="2080.8" y="397.0"/><use href="#bst" x="2088.7" y="381.2"/><use href="#bst" x="2102.1" y="376.8"/><use href="#bst" x="2112.3" y="365.4"/><use href="#bst" x="2124.6" y="355.4"/><use href="#bst" x="2133.8" y="352.9"/><use href="#bst" x="2148.8" y="348.9"/><use href="#bst" x="2159.3" y="341.3"/><use href="#bst" x="2166.4" y="334.0"/><use href="#bst" x="2181.8" y="333.6"/><use href="#bst" x="2188.8" y="322.8"/></g>
<path d="M864 1203H1420" stroke="#000" stroke-width="2" stroke-dasharray="10 8 3 8"/>
<g><use href="#bs" x="864.4" y="1204.6"/><use href="#bs" x="905.5" y="1204.6"/><use href="#bs" x="945.3" y="1204.6"/><use href="#bs" x="973.5" y="1204.6"/><use href="#bs" x="1003.0" y="1204.6"/><use href="#bs" x="1032.6" y="1204.6"/><use href="#bs" x="1059.6" y="1204.6"/><use href="#bs" x="1082.7" y="1204.6"/><use href="#bs" x="1109.5" y="1204.6"/><use href="#bs" x="1126.3" y="1204.6"/><use href="#bs" x="1146.9" y="1204.6"/><use href="#bs" x="1170.5" y="1204.6"/><use href="#bs" x="1188.5" y="1204.6"/><use href="#bs" x="1206.0" y="1204.6"/></g>
<rect x="1199" y="1197.5" width="213" height="14.5" fill="#000"/>
<use href="#bs" x="1428.8" y="1204.0"/>
<use href="#bs" x="1409.0" y="1088.0"/>
<polyline points="1410.8,1096.0 1408.0,1110.0 1404.0,1150.0 1401.0,1197.0" fill="none" stroke="#111" stroke-width="2.4" stroke-linejoin="round" />
<polyline points="1421.6,1000.0 1425.0,1045.0 1428.0,1100.0 1429.0,1197.0" fill="none" stroke="#111" stroke-width="2.4" stroke-linejoin="round" />
<path d="M1437 1036V1171" stroke="#999" stroke-width="2"/><path d="M1439 976V1036" stroke="#111" stroke-width="2.6"/>
<polygon points="1760.0,655.0 1786.0,640.0 1812.0,617.0 1837.0,592.0 1863.0,558.0 1889.0,535.0 1915.0,519.0 1940.0,495.0 1966.0,475.0 1992.0,458.0 2017.0,439.0 2045.0,425.0 2073.0,405.0 2102.0,380.0 2130.0,360.0 2158.0,345.0 2187.0,332.0 2202.0,330.0 2202.0,345.0 2187.0,380.0 2158.0,388.0 2130.0,405.0 2102.0,413.0 2073.0,444.0 2045.0,458.0 2017.0,478.0 1992.0,498.0 1966.0,519.0 1940.0,532.0 1915.0,548.0 1889.0,572.0 1863.0,590.0 1837.0,615.0 1812.0,648.0 1786.0,680.0 1760.0,700.0" fill="#000" />
<g><use href="#bs" x="1486.4" y="931.3"/><use href="#bs" x="1483.1" y="950.3"/><use href="#bs" x="1497.8" y="913.5"/><use href="#bs" x="1498.7" y="933.6"/><use href="#bs" x="1501.5" y="948.8"/><use href="#bs" x="1516.9" y="900.2"/><use href="#bs" x="1512.6" y="920.9"/><use href="#bs" x="1513.5" y="936.7"/><use href="#bs" x="1527.8" y="882.4"/><use href="#bs" x="1528.4" y="901.0"/><use href="#bs" x="1530.0" y="911.9"/><use href="#bs" x="1527.8" y="930.7"/><use href="#bs" x="1548.6" y="882.0"/><use href="#bs" x="1544.1" y="899.5"/><use href="#bs" x="1557.1" y="875.6"/><use href="#bs" x="1574.1" y="846.6"/><use href="#bs" x="1578.1" y="862.3"/><use href="#bs" x="1593.5" y="834.7"/><use href="#bs" x="1608.5" y="817.7"/><use href="#bs" x="1601.3" y="834.0"/><use href="#bs" x="1604.0" y="848.7"/><use href="#bs" x="1617.4" y="808.6"/><use href="#bs" x="1618.2" y="828.4"/><use href="#bs" x="1632.0" y="815.9"/><use href="#bs" x="1632.7" y="828.0"/><use href="#bs" x="1652.6" y="792.4"/><use href="#bs" x="1646.4" y="809.7"/><use href="#bs" x="1649.0" y="830.3"/><use href="#bs" x="1663.9" y="773.1"/><use href="#bs" x="1661.2" y="786.3"/><use href="#bs" x="1667.5" y="806.1"/><use href="#bs" x="1676.3" y="749.9"/><use href="#bs" x="1683.4" y="768.5"/><use href="#bs" x="1698.2" y="744.3"/><use href="#bs" x="1693.2" y="766.3"/><use href="#bs" x="1708.1" y="731.0"/><use href="#bs" x="1708.5" y="744.5"/><use href="#bs" x="1727.0" y="715.6"/><use href="#bs" x="1726.1" y="732.8"/><use href="#bs" x="1721.2" y="744.1"/><use href="#bs" x="1743.7" y="704.9"/><use href="#bs" x="1739.1" y="716.3"/><use href="#bs" x="1754.9" y="678.4"/><use href="#bs" x="1752.5" y="694.4"/><use href="#bs" x="1772.6" y="665.9"/><use href="#bs" x="1770.9" y="679.4"/><use href="#bs" x="1421.4" y="993.0"/><use href="#bs" x="1442.0" y="962.2"/><use href="#bs" x="1448.3" y="993.0"/><use href="#bs" x="1461.2" y="981.4"/><use href="#bs" x="1467.6" y="968.6"/><use href="#bs" x="1475.3" y="973.7"/><use href="#bs" x="1485.6" y="944.2"/><use href="#bs" x="1506.0" y="966.0"/><use href="#bs" x="1517.7" y="914.7"/><use href="#bs" x="1529.2" y="937.8"/><use href="#bs" x="1538.2" y="928.8"/><use href="#bs" x="1501.0" y="895.4"/><use href="#bs" x="1555.0" y="899.3"/><use href="#bs" x="1570.3" y="882.6"/><use href="#bs" x="1567.0" y="879.0"/><use href="#bs" x="1581.0" y="855.0"/><use href="#bs" x="1577.0" y="842.0"/><use href="#bs" x="1590.0" y="829.0"/><use href="#bs" x="1600.6" y="848.0"/><use href="#bs" x="1616.0" y="835.5"/><use href="#bs" x="1629.0" y="835.5"/><use href="#bs" x="1642.0" y="826.0"/><use href="#bs" x="1655.0" y="810.0"/><use href="#bs" x="1661.0" y="797.0"/><use href="#bs" x="1681.0" y="777.0"/><use href="#bs" x="1693.5" y="764.5"/><use href="#bs" x="1696.0" y="752.0"/><use href="#bs" x="1713.0" y="739.0"/><use href="#bs" x="1741.0" y="741.0"/><use href="#bs" x="1752.0" y="706.5"/><use href="#bs" x="1420.6" y="986.8"/><use href="#bs" x="1446.4" y="981.7"/><use href="#bs" x="1467.0" y="966.2"/><use href="#bs" x="1485.0" y="943.0"/><use href="#bs" x="1508.3" y="963.6"/><use href="#bs" x="1518.6" y="917.2"/><use href="#bs" x="1534.0" y="930.0"/><use href="#bs" x="1544.4" y="888.8"/><use href="#bs" x="1562.5" y="878.5"/><use href="#bs" x="1580.5" y="847.6"/><use href="#bs" x="1598.6" y="845.0"/><use href="#bs" x="1585.7" y="827.0"/><use href="#bs" x="1619.2" y="839.8"/><use href="#bs" x="1632.0" y="832.0"/><use href="#bs" x="1652.7" y="806.3"/><use href="#bs" x="1658.0" y="796.0"/><use href="#bs" x="1670.8" y="775.4"/><use href="#bs" x="1683.7" y="775.4"/><use href="#bs" x="1696.6" y="754.7"/><use href="#bs" x="1709.5" y="729.0"/><use href="#bs" x="1722.4" y="723.8"/><use href="#bs" x="1740.4" y="741.8"/><use href="#bs" x="1735.3" y="711.0"/><use href="#bs" x="1761.0" y="703.0"/><use href="#bs" x="1774.0" y="677.4"/><use href="#bs" x="1761.0" y="664.5"/><use href="#bs" x="1799.7" y="651.6"/><use href="#bs" x="1787.0" y="625.8"/><use href="#bs" x="1988.5" y="493.0"/><use href="#bs" x="2043.2" y="483.0"/><use href="#bs" x="2104.2" y="440.4"/><use href="#bs" x="2156.0" y="429.8"/><use href="#bs" x="2188.6" y="378.0"/><use href="#bs" x="2132.6" y="406.4"/><use href="#bs" x="2196.0" y="350.0"/><use href="#bs" x="1808.0" y="658.0"/><use href="#bs" x="1830.0" y="640.0"/><use href="#bs" x="1857.0" y="607.0"/><use href="#bs" x="1870.0" y="590.0"/><use href="#bs" x="1905.0" y="578.0"/><use href="#bs" x="1920.0" y="550.0"/><use href="#bs" x="1940.0" y="530.0"/><use href="#bs" x="1975.0" y="512.0"/><use href="#bs" x="1995.0" y="496.0"/><use href="#bs" x="2020.0" y="468.0"/><use href="#bs" x="2050.0" y="455.0"/><use href="#bs" x="2078.0" y="437.0"/><use href="#bs" x="2100.0" y="418.0"/><use href="#bs" x="2120.0" y="412.0"/><use href="#bs" x="2145.0" y="398.0"/><use href="#bs" x="2170.0" y="388.0"/><use href="#bs" x="2185.0" y="376.0"/><use href="#bs" x="1782.0" y="690.0"/><use href="#bs" x="1797.0" y="672.0"/></g>
<path d="M2043 476V445M2104 433V418M2156 423V396M1988 486V470" stroke="#222" stroke-width="2"/>
<polyline points="863.9,169.7 937.8,169.7 937.8,172.5 990.2,172.5 992.3,174.6 1025.5,174.6 1027.6,177.4 1052.0,177.4 1053.3,180.0 1080.0,180.0 1081.0,183.2 1114.3,183.2 1115.4,185.7 1132.5,186.4 1149.6,192.8 1164.6,192.8 1166.7,197.0 1186.0,197.0 1187.0,200.7 1211.7,200.7 1226.7,205.6 1235.3,211.0 1246.0,207.4 1256.7,207.4 1265.2,217.4 1280.0,220.6 1297.3,222.8 1310.0,231.0 1327.2,232.4 1333.6,235.6 1349.6,236.0 1357.0,247.8 1382.8,250.0 1400.0,256.4 1404.0,262.8 1421.0,265.0 1428.8,274.6 1451.3,275.2 1460.0,281.0 1477.0,284.2 1485.5,293.8 1502.7,296.0 1511.2,303.5 1524.0,307.7 1530.5,315.2 1541.0,312.0 1558.3,320.6 1566.9,328.0 1577.6,331.3 1586.0,337.7 1605.4,339.8 1611.8,348.4 1622.5,348.4 1633.2,357.0 1648.2,358.0 1656.8,362.3 1673.9,363.4 1680.3,367.7 1691.0,370.9 1712.4,370.9 1716.7,377.3 1725.2,369.8 1738.0,378.4 1746.6,373.0 1766.0,373.0 1768.0,378.4 1789.5,375.2 1806.6,367.7 1813.0,374.0 1819.4,363.4 1841.0,353.6 1863.0,349.0 1882.0,342.0 1901.8,338.7 1920.0,328.0 1940.5,318.0 1960.0,309.0 1988.0,296.4 2016.7,279.4 2045.0,266.6 2073.0,256.7 2102.0,242.5 2130.0,235.5 2158.5,227.0 2187.0,221.3 2208.0,221.5 2229.0,218.3 2260.6,220.4 2281.5,223.6 2302.0,225.7" fill="none" stroke="#0c0c7a" stroke-width="6.2" stroke-linejoin="round" />
<path d="M1749.5 252V346" stroke="#555" stroke-width="2.2"/>
<path d="M1740 306H1761L1750.5 336Z" fill="#000"/>
<path d="M1616.5 378V476" stroke="#222" stroke-width="3"/>
<path d="M1606 440H1627L1616.5 466Z" fill="#000"/>
</svg></body></html>
